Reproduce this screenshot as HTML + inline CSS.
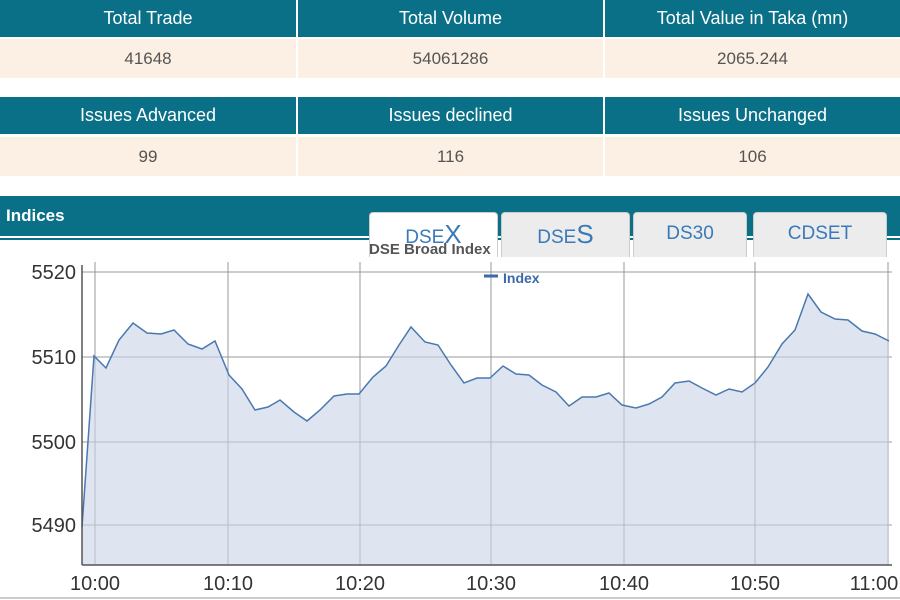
<!DOCTYPE html><html><head><style>
body{margin:0;width:900px;height:600px;overflow:hidden;background:#fff;font-family:"Liberation Sans",sans-serif;position:relative}
.h{position:absolute;background:#0a7088;color:#fff;font-size:18px;text-align:center;line-height:37px;height:37px}
.v{position:absolute;background:#fcefe3;color:#555;font-size:17px;text-align:center;line-height:39px;height:39px}
.tab{position:absolute;top:212px;height:44px;background:#ececec;border:1px solid #ccc;border-bottom:none;border-radius:4px 4px 0 0;color:#3a7ab8;font-size:19px;text-align:center;line-height:42px}
.t{position:absolute;font-size:20px;color:#333}
</style></head><body>
<div class="h" style="left:0;top:0;width:296px">Total Trade</div>
<div class="h" style="left:298px;top:0;width:305px">Total Volume</div>
<div class="h" style="left:605px;top:0;width:295px">Total Value in Taka (mn)</div>
<div class="v" style="left:0;top:39px;width:296px">41648</div>
<div class="v" style="left:298px;top:39px;width:305px">54061286</div>
<div class="v" style="left:605px;top:39px;width:295px">2065.244</div>
<div class="h" style="left:0;top:97px;width:296px">Issues Advanced</div>
<div class="h" style="left:298px;top:97px;width:305px">Issues declined</div>
<div class="h" style="left:605px;top:97px;width:295px">Issues Unchanged</div>
<div class="v" style="left:0;top:137px;width:296px">99</div>
<div class="v" style="left:298px;top:137px;width:305px">116</div>
<div class="v" style="left:605px;top:137px;width:295px">106</div>
<div style="position:absolute;left:0;top:196px;width:900px;height:40px;background:#0a7088"></div>
<div style="position:absolute;left:0;top:238px;width:900px;height:2px;background:#0a7088"></div>
<div style="position:absolute;left:6px;top:206px;color:#fff;font-weight:bold;font-size:17px">Indices</div>
<div class="tab" style="left:369px;width:127px;background:#fff">DSE<span style="font-size:26px">X</span></div>
<div class="tab" style="left:501px;width:127px">DSE<span style="font-size:26px">S</span></div>
<div class="tab" style="left:633px;width:112px">DS30</div>
<div class="tab" style="left:753px;width:132px">CDSET</div>
<div style="position:absolute;left:369px;top:241px;font-size:15px;font-weight:bold;color:#555">DSE Broad Index</div>
<svg style="position:absolute;left:0;top:0" width="900" height="600">
<g stroke="#999" stroke-width="1">
<line x1="82" y1="272" x2="892" y2="272"/><line x1="82" y1="357" x2="892" y2="357"/><line x1="82" y1="442" x2="892" y2="442"/><line x1="82" y1="525" x2="892" y2="525"/>
<line x1="95" y1="262" x2="95" y2="565"/><line x1="228" y1="262" x2="228" y2="565"/><line x1="360" y1="262" x2="360" y2="565"/><line x1="491" y1="262" x2="491" y2="565"/><line x1="624" y1="262" x2="624" y2="565"/><line x1="755" y1="262" x2="755" y2="565"/><line x1="888" y1="262" x2="888" y2="565"/>
</g>
<polygon fill="#c8d4e6" fill-opacity="0.6" points="82,565 82,527 94,356 106,368 119,340 133,323 147,333 161,334 174,330 188,344 202,349 215,341 229,375 242,389 255,410 268,407 280,400 294,412 307,421 320,410 334,396 347,394 359,394 373,377 386,366 399,345 411,327 425,342 438,345 451,365 464,383 477,378 490,378 503,366 516,374 529,375 542,385 556,392 569,406 582,397 596,397 609,393 622,405 636,408 649,404 662,397 675,383 689,381 702,388 716,395 729,389 742,392 755,383 768,367 782,344 795,330 808,294 821,312 835,319 848,320 862,331 875,334 889,341 889,565"/>
<polyline fill="none" stroke="#4a78b0" stroke-width="1.5" points="82,527 94,356 106,368 119,340 133,323 147,333 161,334 174,330 188,344 202,349 215,341 229,375 242,389 255,410 268,407 280,400 294,412 307,421 320,410 334,396 347,394 359,394 373,377 386,366 399,345 411,327 425,342 438,345 451,365 464,383 477,378 490,378 503,366 516,374 529,375 542,385 556,392 569,406 582,397 596,397 609,393 622,405 636,408 649,404 662,397 675,383 689,381 702,388 716,395 729,389 742,392 755,383 768,367 782,344 795,330 808,294 821,312 835,319 848,320 862,331 875,334 889,341"/>
<line x1="82" y1="265" x2="82" y2="565" stroke="#555" stroke-width="1.5"/>
<line x1="82" y1="565" x2="892" y2="565" stroke="#555" stroke-width="1.5"/>
<line x1="0" y1="598" x2="900" y2="598" stroke="#ccc" stroke-width="2"/>
<line x1="484" y1="276" x2="498" y2="276" stroke="#3a6aa8" stroke-width="3"/>
<text x="503" y="283" font-size="14" font-weight="bold" fill="#3a6aa8" font-family="Liberation Sans">Index</text>
<g font-family="Liberation Sans" font-size="20" fill="#333" text-anchor="end">
<text x="76" y="279">5520</text><text x="76" y="364">5510</text><text x="76" y="449">5500</text><text x="76" y="532">5490</text></g>
<g font-family="Liberation Sans" font-size="20" fill="#333" text-anchor="middle">
<text x="95" y="590">10:00</text><text x="228" y="590">10:10</text><text x="360" y="590">10:20</text><text x="491" y="590">10:30</text><text x="624" y="590">10:40</text><text x="755" y="590">10:50</text><text x="874" y="590">11:00</text></g>
</svg>
</body></html>
